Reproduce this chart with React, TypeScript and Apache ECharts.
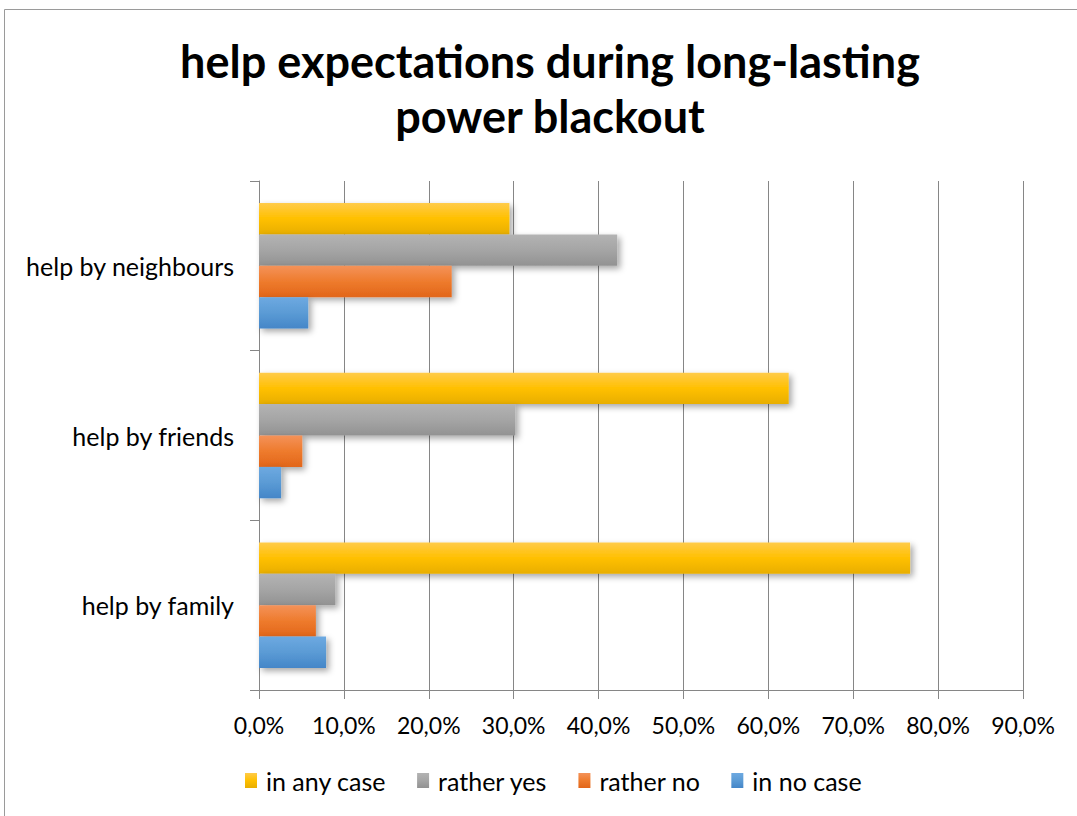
import React, { useEffect, useRef } from "react";
import * as echarts from "echarts";

const categories = ["help by family", "help by friends", "help by neighbours"];
const seriesNames = ["in any case", "rather yes", "rather no", "in no case"];
const inAnyCase = [76.7, 62.4, 29.5];
const ratherYes = [9.0, 30.2, 42.2];
const ratherNo = [6.7, 5.1, 22.7];
const inNoCase = [7.9, 2.6, 5.8];
const xTicks = [0, 10, 20, 30, 40, 50, 60, 70, 80, 90];

const FONT = "Lato";

function grad(top: string, mid: string, bottom: string) {
  return new echarts.graphic.LinearGradient(0, 0, 0, 1, [
    { offset: 0, color: top },
    { offset: 0.5, color: mid },
    { offset: 1, color: bottom },
  ]);
}

export default function App() {
  const ref = useRef<HTMLDivElement>(null);
  useEffect(() => {
    document.body.style.margin = "0";
    const chart = echarts.init(ref.current!, null, { renderer: "svg" });
    const shadow = {
      shadowColor: "rgba(0,0,0,0.35)",
      shadowBlur: 6,
      shadowOffsetX: 3,
      shadowOffsetY: 3,
    };
    const styles = [
      grad("#FFCB4A", "#FFC000", "#E8AE00"),
      grad("#B3B3B3", "#A5A5A5", "#929292"),
      grad("#F49259", "#EE7B2D", "#E2661A"),
      grad("#6DA9E1", "#5B9BD5", "#4486C8"),
    ];
    const dataSets = [inAnyCase, ratherYes, ratherNo, inNoCase];
    const series = seriesNames.map((name, i) => ({
      name,
      type: "bar",
      data: dataSets[i],
      barGap: "0%",
      barCategoryGap: "26%",
      itemStyle: { color: styles[i], ...shadow },
    }));
    chart.setOption({
      animation: false,
      title: {
        text: "help expectations during long-lasting\npower blackout",
        left: 545,
        textAlign: "center",
        top: 28,
        textStyle: {
          fontFamily: FONT,
          fontSize: 45,
          fontWeight: "bold",
          lineHeight: 55,
          color: "#000",
        },
      },
      graphic: [
        {
          type: "rect",
          shape: { x: 4.5, y: 9.5, width: 1100, height: 830 },
          style: { fill: "none", stroke: "#9a9a9a", lineWidth: 1 },
          silent: true,
        },
      ],
      legend: {
        data: seriesNames,
        left: 240,
        top: 763,
        icon: "rect",
        itemWidth: 12,
        itemHeight: 15,
        itemGap: 31,
        textStyle: { fontFamily: FONT, fontSize: 25, color: "#000", padding: [0, 0, 0, 4] },
      },
      grid: { left: 259, right: 54, top: 181, bottom: 126, containLabel: false },
      xAxis: {
        type: "value",
        min: xTicks[0],
        max: xTicks[xTicks.length - 1],
        interval: 10,
        axisLine: { show: true, lineStyle: { color: "#868686" } },
        axisTick: { show: true, length: 9, lineStyle: { color: "#868686" } },
        splitLine: { show: true, lineStyle: { color: "#868686", width: 1 } },
        axisLabel: {
          margin: 23,
          fontFamily: FONT,
          fontSize: 23,
          color: "#000",
          formatter: (v: number) => v.toFixed(1).replace(".", ",") + "%",
        },
      },
      yAxis: {
        type: "category",
        data: categories,
        axisLine: { show: true, lineStyle: { color: "#868686" } },
        axisTick: { show: true, length: 9, lineStyle: { color: "#868686" } },
        axisLabel: { margin: 25, fontFamily: FONT, fontSize: 25, color: "#000" },
      },
      series,
    });
    return () => chart.dispose();
  }, []);
  return <div ref={ref} style={{ width: 1077, height: 816 }} />;
}
